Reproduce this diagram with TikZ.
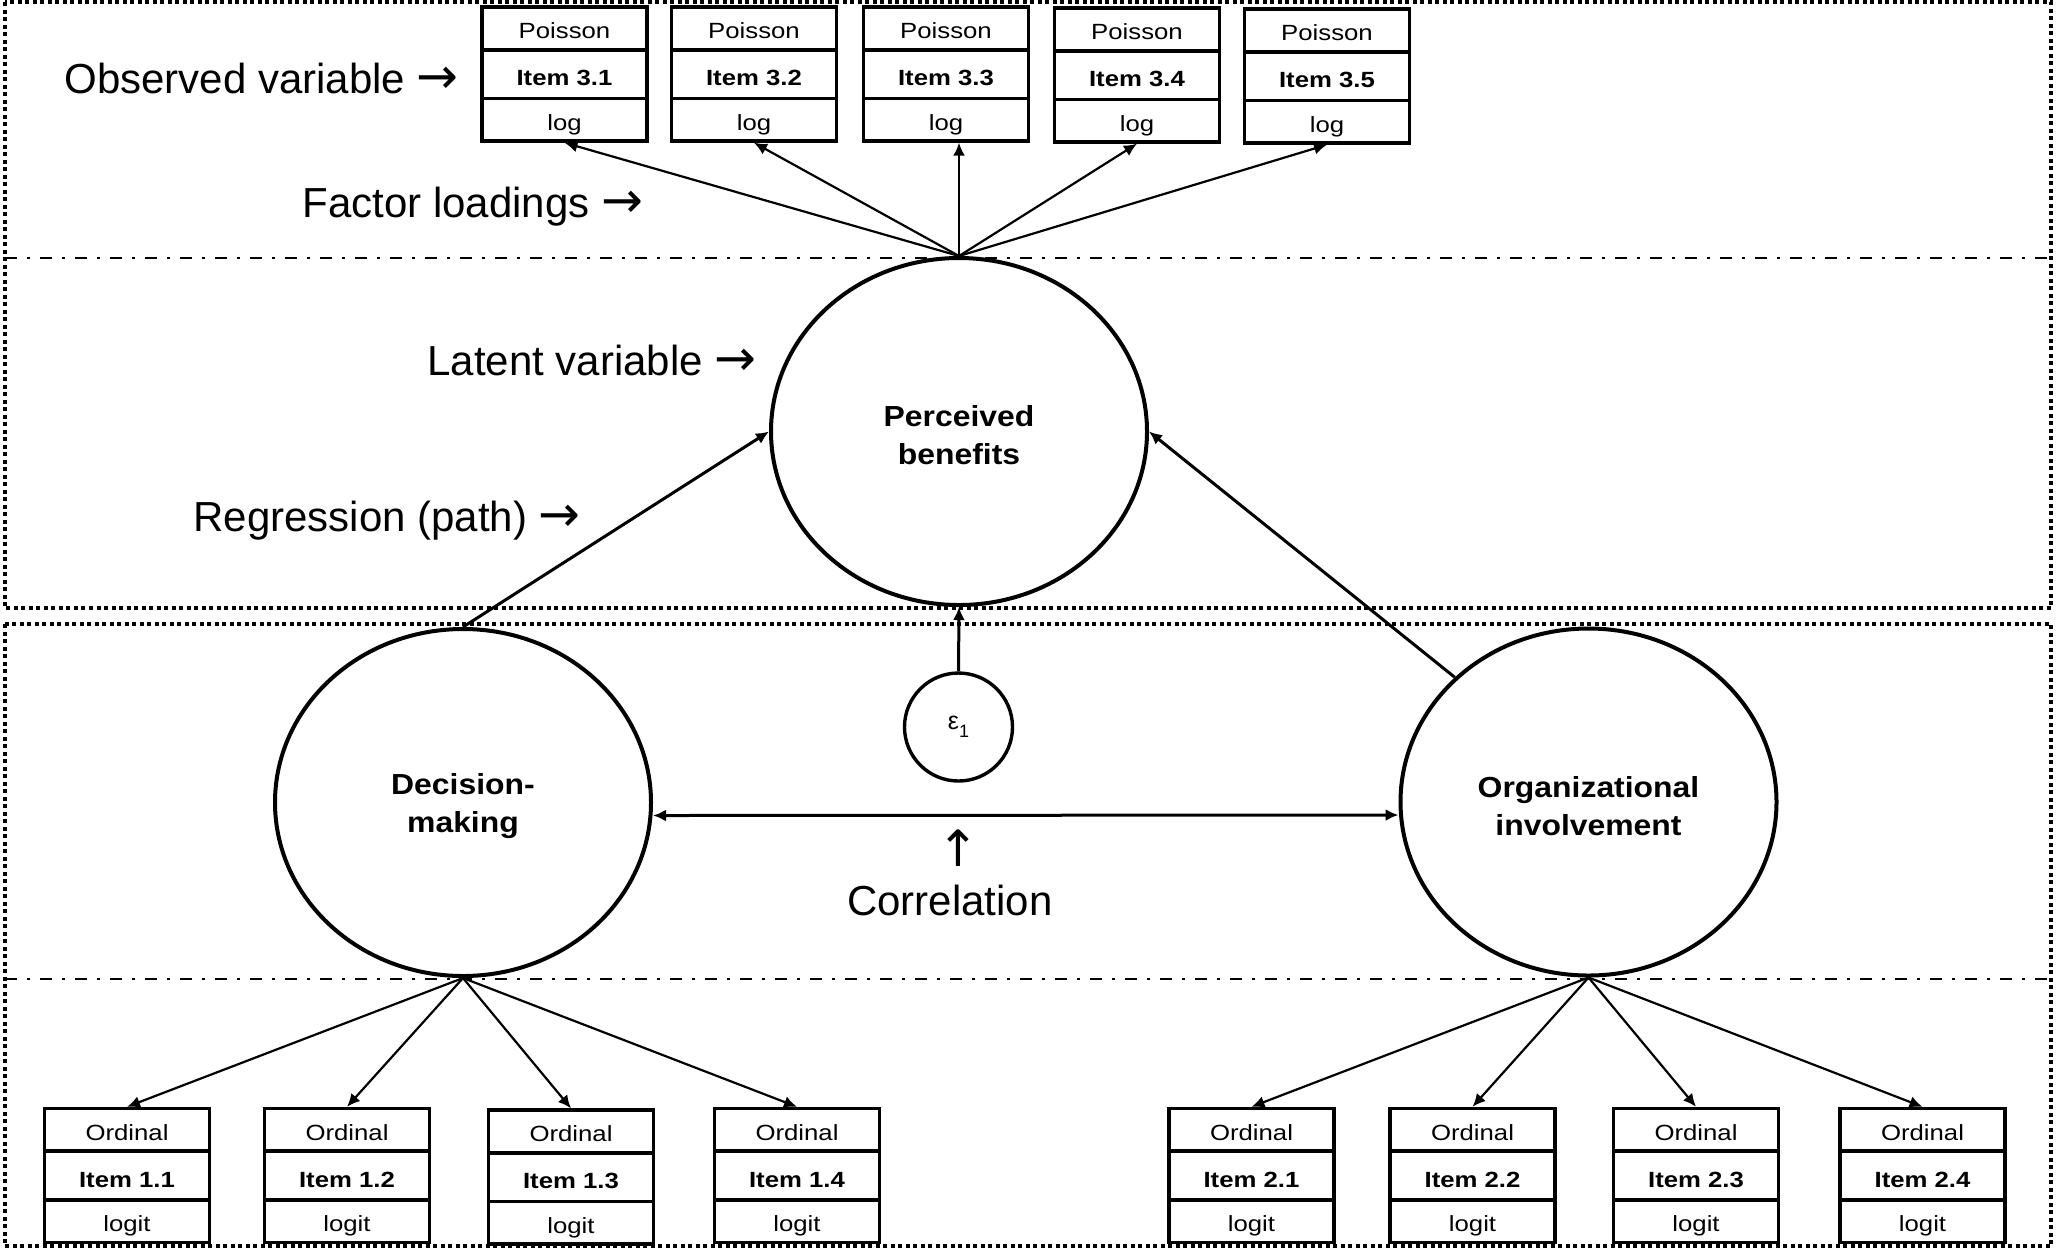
\documentclass[tikz,border=0pt]{standalone}
\usepackage{fontspec}
\setmainfont{Liberation Sans}
\newfontfamily\boxfont[FakeStretch=1.17]{Liberation Sans}
\newfontfamily\latfont[FakeStretch=1.1]{Liberation Sans}
\newfontfamily\arrowfont{DejaVu Sans}
\usetikzlibrary{shapes.geometric,shapes.multipart,arrows.meta}
\newcommand{\rowtop}{\rule[-4.5pt]{0pt}{19.5pt}}
\newcommand{\rowmid}{\rule[-5.5pt]{0pt}{22.5pt}}
\newcommand{\latstrut}{\rule{0pt}{14.5pt}}
\newcommand{\lblarrow}[1]{{\arrowfont\fontsize{25}{25}\selectfont #1}}
\begin{document}
\begin{tikzpicture}[x=0.5pt,y=-0.5pt,>={Latex[length=6.5pt,width=6pt]},
  zone/.style={line width=1.6pt,dash pattern=on 2pt off 1.75pt},
  band/.style={line width=1.1pt,dash pattern=on 6pt off 5pt on 1.5pt off 5pt},
  obs/.style={rectangle split,rectangle split parts=3,draw,line width=1.8pt,
    inner xsep=0pt,inner ysep=0pt,minimum width=82.5pt,font=\boxfont\fontsize{11}{13}\selectfont},
  lat/.style={ellipse,draw,line width=2pt,minimum width=188pt,minimum height=173.5pt,
    align=center,font=\latfont\bfseries\fontsize{14.5}{19}\selectfont},
  err/.style={circle,draw,line width=1.7pt,minimum size=54pt,inner sep=0pt,font=\fontsize{12.5}{15}\selectfont},
  lbl/.style={inner sep=0pt,font=\fontsize{21}{25}\selectfont},
  load/.style={->,line width=1.1pt},
  regr/.style={->,line width=1.5pt},
  corr/.style={<->,line width=1.5pt}]
\useasboundingbox (0,0) rectangle (2064,1250);
\draw[zone] (5,2) rectangle (2051,608);
\draw[zone] (5,624) rectangle (2051,1246);
\draw[band] (5,258) -- (2051,258);
\draw[band] (5,979) -- (2051,979);

\node[lat] (pb) at (959,431.5) {\latstrut Perceived\\benefits};
\node[lat] (dm) at (463,802.5) {\latstrut Decision-\\making};
\node[lat] (oi) at (1588.5,802) {\latstrut Organizational\\involvement};
\node[err] (eps) at (958.5,727) {ε\raisebox{-4pt}{\fontsize{9}{10}\selectfont 1}};

\node[obs] (i31) at (564.5,74) {\rowtop Poisson\nodepart{two}\rowmid\textbf{Item 3.1}\nodepart{three}\rowtop log};
\node[obs] (i32) at (754,74) {\rowtop Poisson\nodepart{two}\rowmid\textbf{Item 3.2}\nodepart{three}\rowtop log};
\node[obs] (i33) at (946,74) {\rowtop Poisson\nodepart{two}\rowmid\textbf{Item 3.3}\nodepart{three}\rowtop log};
\node[obs] (i34) at (1137,75) {\rowtop Poisson\nodepart{two}\rowmid\textbf{Item 3.4}\nodepart{three}\rowtop log};
\node[obs] (i35) at (1327,76) {\rowtop Poisson\nodepart{two}\rowmid\textbf{Item 3.5}\nodepart{three}\rowtop log};

\node[obs] (i11) at (127,1175.5) {\rowtop Ordinal\nodepart{two}\rowmid\textbf{Item 1.1}\nodepart{three}\rowtop logit};
\node[obs] (i12) at (347,1175.5) {\rowtop Ordinal\nodepart{two}\rowmid\textbf{Item 1.2}\nodepart{three}\rowtop logit};
\node[obs] (i13) at (571,1177) {\rowtop Ordinal\nodepart{two}\rowmid\textbf{Item 1.3}\nodepart{three}\rowtop logit};
\node[obs] (i14) at (797,1175.5) {\rowtop Ordinal\nodepart{two}\rowmid\textbf{Item 1.4}\nodepart{three}\rowtop logit};
\node[obs] (i21) at (1251.5,1175.5) {\rowtop Ordinal\nodepart{two}\rowmid\textbf{Item 2.1}\nodepart{three}\rowtop logit};
\node[obs] (i22) at (1472.5,1175.5) {\rowtop Ordinal\nodepart{two}\rowmid\textbf{Item 2.2}\nodepart{three}\rowtop logit};
\node[obs] (i23) at (1696,1175.5) {\rowtop Ordinal\nodepart{two}\rowmid\textbf{Item 2.3}\nodepart{three}\rowtop logit};
\node[obs] (i24) at (1922.5,1175.5) {\rowtop Ordinal\nodepart{two}\rowmid\textbf{Item 2.4}\nodepart{three}\rowtop logit};

\draw[load] (pb.north) -- (i31.south);
\draw[load] (pb.north) -- (i32.south);
\draw[load] (pb.north) -- (pb.north |- i33.south);
\draw[load] (pb.north) -- (i34.south);
\draw[load] (pb.north) -- (i35.south);
\draw[load] (dm.south) -- (i11.north);
\draw[load] (dm.south) -- (i12.north);
\draw[load] (dm.south) -- (i13.north);
\draw[load] (dm.south) -- (i14.north);
\draw[load] (oi.south) -- (i21.north);
\draw[load] (oi.south) -- (i22.north);
\draw[load] (oi.south) -- (i23.north);
\draw[load] (oi.south) -- (i24.north);
\draw[regr] (dm.north) -- (pb.west);
\draw[regr] (oi.137.5) -- (pb.east);
\draw[regr] (eps.north) -- (pb.south);
\draw[corr] ([yshift=-6.5pt]dm.east) -- ([yshift=-6.5pt]oi.west);

\node[lbl,anchor=base west] (obslbl) at (64,93) {Observed variable \lblarrow{→}};
\node[lbl,anchor=base west] (faclbl) at (302,217) {Factor loadings \lblarrow{→}};
\node[lbl,anchor=base west] (latlbl) at (427,375) {Latent variable \lblarrow{→}};
\node[lbl,anchor=base west] (reglbl) at (193,531) {Regression (path) \lblarrow{→}};
\node[lbl,anchor=base] (uplbl) at (958,866) {\lblarrow{↑}};
\node[lbl,anchor=base] (corrlbl) at (950,915) {Correlation};
\end{tikzpicture}
\end{document}
